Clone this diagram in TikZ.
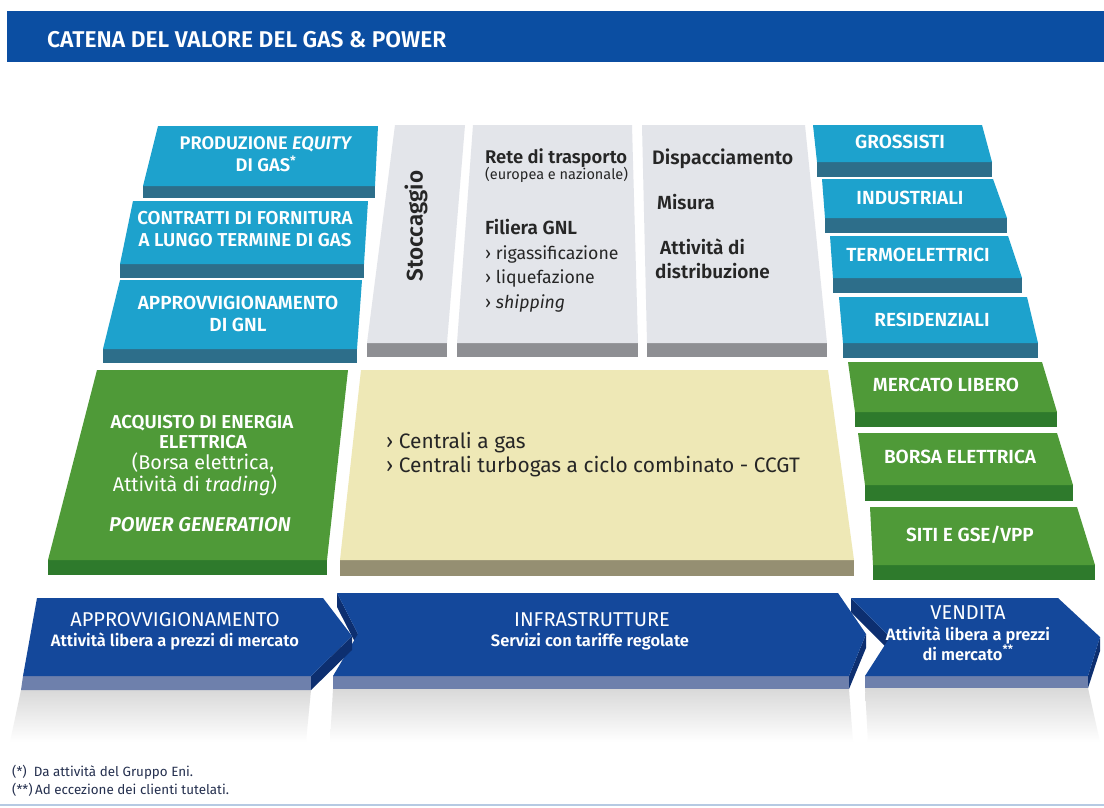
\documentclass[tikz,border=0pt]{standalone}
\usepackage{fontspec}
\setmainfont{Fira Sans}[BoldFont={Fira Sans SemiBold}, BoldItalicFont={Fira Sans SemiBold Italic}]
\newcommand\myfs[2]{\fontsize{#1}{#2}\selectfont}
\definecolor{hdr}{HTML}{0B4EA2}
\definecolor{cyanT}{HTML}{1DA2CD}
\definecolor{cyanS}{HTML}{2D6E8A}
\definecolor{greyT}{HTML}{E3E5EA}
\definecolor{greyS}{HTML}{8E8F93}
\definecolor{yelT}{HTML}{EEE8B6}
\definecolor{yelS}{HTML}{958F72}
\definecolor{grnT}{HTML}{4F9A38}
\definecolor{grnS}{HTML}{2E7A2C}
\definecolor{arrT}{HTML}{14489B}
\definecolor{arrD}{HTML}{0D2F70}
\definecolor{arrS}{HTML}{6E80AC}
\definecolor{txtD}{HTML}{262626}
\definecolor{foot}{HTML}{25304F}
% top colour, side colour, x top-left, x top-right, x bottom-right, x bottom-left, y top, y bottom, y strip
\newcommand\myblk[9]{%
  \fill[#2] (#6,#8) -- (#5,#8) -- (#5,#9) -- (#6,#9) -- cycle;
  \fill[#1] (#3,#7) -- (#4,#7) -- (#5,#8) -- (#6,#8) -- cycle;}
\begin{document}
\begin{tikzpicture}[x=1pt,y=-1pt,
  wl/.style={text=white, font=\myfs{19}{22}\bfseries, align=center, inner sep=0pt},
  dk/.style={text=txtD, anchor=base west, inner sep=0pt},
  dkb/.style={dk, font=\myfs{19}{22}\bfseries},
  dkr/.style={dk, font=\myfs{17.7}{22}},
  gw/.style={text=white, anchor=base, inner sep=0pt},
  aw/.style={text=white, anchor=base, inner sep=0pt},
  ft/.style={text=foot, anchor=base west, inner sep=0pt, font=\myfs{13.4}{16}}]
\useasboundingbox (0,0) rectangle (1104,807);
\fill[white] (0,0) rectangle (1104,807);

% header
\fill[hdr] (7,11) rectangle (1104,62);
\node[anchor=base west, text=white, inner sep=0pt, font=\myfs{22.8}{26}\bfseries] (title) at (47,47) {CATENA DEL VALORE DEL GAS \& POWER};

% left column
\myblk{cyanT}{cyanS}{158}{378}{375}{143}{126}{186}{198}
\myblk{cyanT}{cyanS}{133}{368}{364}{120}{201}{264}{278}
\myblk{cyanT}{cyanS}{120}{362}{357}{103}{280}{349}{363}
\myblk{grnT}{grnS}{97}{348}{327}{48}{370}{560}{575}
\node[wl, font=\myfs{18.3}{22}\bfseries] (prod) at (266,154) {PRODUZIONE \textit{EQUITY}\\DI GAS\textsuperscript{*}};
\node[wl, font=\myfs{18.7}{22}\bfseries] (contr) at (245,229) {CONTRATTI DI FORNITURA\\A LUNGO TERMINE DI GAS};
\node[wl] (appgnl) at (238,314) {APPROVVIGIONAMENTO\\DI GNL};

\node[gw, font=\myfs{18.7}{20}\bfseries] (acq1) at (202,428) {ACQUISTO DI ENERGIA};
\node[gw, font=\myfs{18.7}{20}\bfseries] (acq2) at (203,448) {ELETTRICA};
\node[gw, font=\myfs{19.8}{20}] (acq3) at (203,469) {(Borsa elettrica,};
\node[gw, font=\myfs{19.8}{20}] (acq4) at (195,491) {Attività di \textit{trading})};
\node[gw, font=\myfs{20}{20}\bfseries\itshape] (acq5) at (200,531) {POWER GENERATION};

% grey columns
\myblk{greyT}{greyS}{395}{465}{447}{367}{125}{343}{357}
\myblk{greyT}{greyS}{473}{632}{638}{457}{125}{343}{357}
\myblk{greyT}{greyS}{642}{805}{827}{647}{125}{343}{357}
\node[text=txtD, rotate=90, inner sep=0pt, font=\myfs{22.5}{24}\bfseries] (stocc) at (416,226) {Stoccaggio};
\node[dkb, font=\myfs{18.4}{22}\bfseries] (rete) at (485,163) {Rete di trasporto};
\node[dk, font=\myfs{14.5}{16}] (europ) at (485,179) {(europea e nazionale)};
\node[dkb] (fil) at (485,234) {Filiera GNL};
\node[dkr] (rig) at (485,259) {› rigassificazione};
\node[dkr] (liq) at (485,283) {› liquefazione};
\node[dkr] (ship) at (485,308) {› \textit{shipping}};
\node[dkb, font=\myfs{19.5}{22}\bfseries] (disp) at (652,164) {Dispacciamento};
\node[dkb] (mis) at (657,209) {Misura};
\node[dkb] (att) at (660,254) {Attività di};
\node[dkb] (distr) at (655,278) {distribuzione};

% yellow block
\myblk{yelT}{yelS}{361}{828}{854}{340}{370}{560}{576}
\node[dk, font=\myfs{20.9}{23}] (cg1) at (386,448) {› Centrali a gas};
\node[dk, font=\myfs{20.9}{23}] (cg2) at (386,472) {› Centrali turbogas a ciclo combinato - CCGT};

% right column
\myblk{cyanT}{cyanS}{813}{982}{992}{817}{125}{162}{177}
\myblk{cyanT}{cyanS}{822}{993}{1007}{825}{179}{218}{233}
\myblk{cyanT}{cyanS}{830}{1008}{1022}{833}{236}{278}{293}
\myblk{cyanT}{cyanS}{839}{1027}{1038}{843}{297}{343}{358}
\myblk{grnT}{grnS}{848}{1042}{1057}{855}{362}{412}{427}
\myblk{grnT}{grnS}{858}{1057}{1073}{865}{433}{485}{501}
\myblk{grnT}{grnS}{870}{1077}{1095}{873}{507}{565}{580}
\node[wl] (gros) at (900,142) {GROSSISTI};
\node[wl] (indu) at (910,198) {INDUSTRIALI};
\node[wl] (term) at (918,255) {TERMOELETTRICI};
\node[wl] (resi) at (932,320) {RESIDENZIALI};
\node[wl] (merc) at (946,385) {MERCATO LIBERO};
\node[wl] (borsa) at (960,457) {BORSA ELETTRICA};
\node[wl] (siti) at (970,535) {SITI E GSE/VPP};

% reflections under the arrows
\shade[top color=black!15, bottom color=white] (21,690) -- (311,690) -- (306,742) -- (10,742) -- cycle;
\shade[top color=black!15, bottom color=white] (333,689) -- (849,689) -- (853,742) -- (330,742) -- cycle;
\shade[top color=black!15, bottom color=white] (865,688) -- (1088,688) -- (1100,742) -- (868,742) -- cycle;

% arrow INFRASTRUTTURE
\fill[arrD] (337,593) -- (358,634) -- (358,648) -- (337,607) -- cycle;
\fill[arrS] (333,676) -- (849,676) -- (849,689) -- (333,689) -- cycle;
\fill[arrD] (866,634) -- (866,648) -- (849,689) -- (849,676) -- cycle;
\fill[arrT] (337,593) -- (838,593) -- (866,634) -- (849,676) -- (333,676) -- (358,634) -- cycle;
% arrow VENDITA
\fill[arrD] (851,598) -- (890,637) -- (890,651) -- (851,612) -- cycle;
\fill[arrS] (865,676) -- (1088,676) -- (1088,688) -- (865,688) -- cycle;
\fill[arrD] (1100,637) -- (1100,651) -- (1088,688) -- (1088,676) -- cycle;
\fill[arrT] (851,598) -- (1058,598) -- (1100,637) -- (1088,676) -- (865,676) -- (890,637) -- cycle;
% arrow APPROVVIGIONAMENTO
\fill[arrS] (23,676) -- (311,676) -- (311,690) -- (21,690) -- cycle;
\fill[arrD] (352,636) -- (352,650) -- (311,690) -- (311,676) -- cycle;
\fill[arrT] (37,598) -- (323,598) -- (352,636) -- (311,676) -- (23,676) -- cycle;

\node[aw, font=\myfs{20}{22}] (ap1) at (175,626) {APPROVVIGIONAMENTO};
\node[aw, font=\myfs{16.5}{19}\bfseries] (ap2) at (175,646) {Attività libera a prezzi di mercato};
\node[aw, font=\myfs{20}{22}] (in1) at (592,626) {INFRASTRUTTURE};
\node[aw, font=\myfs{16.5}{19}\bfseries] (in2) at (590,646) {Servizi con tariffe regolate};
\node[aw, font=\myfs{20}{22}] (ve1) at (968,619) {VENDITA};
\node[aw, font=\myfs{16.5}{19}\bfseries] (ve2) at (968,640) {Attività libera a prezzi};
\node[aw, font=\myfs{16.5}{19}\bfseries] (ve3) at (968,660) {di mercato\textsuperscript{**}};

% footnotes
\node[ft] (f1) at (12,776) {(*)\hspace{7pt}Da attività del Gruppo Eni.};
\node[ft] (f2) at (12,794) {(**)\hspace{2.5pt}Ad eccezione dei clienti tutelati.};
\draw[color=hdr!30, line width=1.2pt] (0,805) -- (1104,805);
\end{tikzpicture}
\end{document}
